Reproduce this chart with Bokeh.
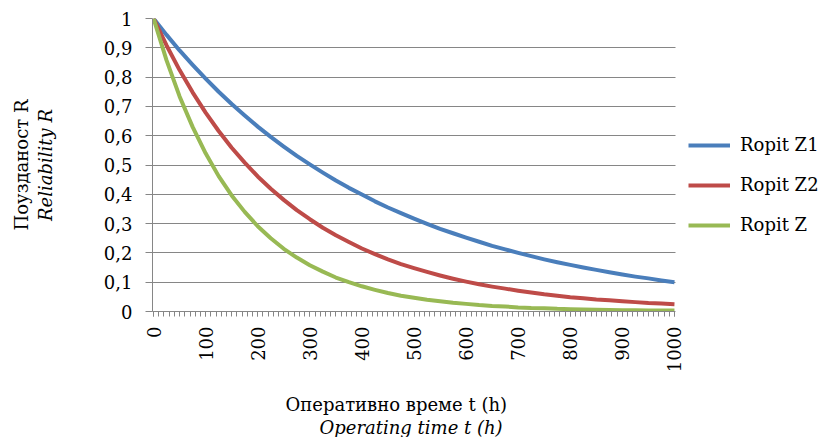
import math
from bokeh.plotting import figure
from bokeh.models import (Range1d, FixedTicker, CustomJSTickFormatter, Legend,
                          LegendItem, Title, BoxAnnotation)
from bokeh.embed import file_html
from bokeh.resources import INLINE

# ---- data ----
hours = [0, 25, 50, 75, 100, 125, 150, 175, 200, 225, 250, 275, 300, 325, 350,
         375, 400, 425, 450, 475, 500, 525, 550, 575, 600, 625, 650, 675, 700,
         725, 750, 775, 800, 825, 850, 875, 900, 925, 950, 975, 1000]

ropit_z1 = [1.000, 0.944, 0.891, 0.842, 0.795, 0.750, 0.708, 0.669, 0.631,
            0.596, 0.563, 0.531, 0.502, 0.474, 0.447, 0.422, 0.399, 0.376,
            0.355, 0.336, 0.317, 0.299, 0.282, 0.267, 0.252, 0.238, 0.224,
            0.212, 0.200, 0.189, 0.178, 0.168, 0.159, 0.150, 0.142, 0.134,
            0.126, 0.119, 0.113, 0.106, 0.100]

ropit_z2 = [1.000, 0.908, 0.824, 0.748, 0.679, 0.616, 0.559, 0.508, 0.461,
            0.419, 0.381, 0.346, 0.315, 0.286, 0.260, 0.237, 0.215, 0.196,
            0.178, 0.162, 0.148, 0.135, 0.123, 0.112, 0.102, 0.093, 0.085,
            0.078, 0.071, 0.065, 0.059, 0.054, 0.049, 0.045, 0.041, 0.038,
            0.035, 0.032, 0.029, 0.027, 0.025]

ropit_z = [1.000, 0.857, 0.734, 0.630, 0.540, 0.462, 0.396, 0.340, 0.291,
           0.250, 0.214, 0.184, 0.158, 0.136, 0.116, 0.100, 0.086, 0.074,
           0.063, 0.054, 0.047, 0.040, 0.035, 0.030, 0.026, 0.022, 0.019,
           0.017, 0.014, 0.012, 0.011, 0.009, 0.008, 0.007, 0.006, 0.005,
           0.004, 0.004, 0.003, 0.003, 0.003]

series_names = ["Ropit Z1", "Ropit Z2", "Ropit Z"]
series_colors = ["#4A7EBB", "#BE4B48", "#98B954"]

x_ticks = [0, 100, 200, 300, 400, 500, 600, 700, 800, 900, 1000]
x_minor_ticks = [v for v in range(0, 1001, 10)]
y_ticks = [0.0, 0.1, 0.2, 0.3, 0.4, 0.5, 0.6, 0.7, 0.8, 0.9, 1.0]
y_tick_labels = ["0", "0,1", "0,2", "0,3", "0,4", "0,5", "0,6", "0,7", "0,8",
                 "0,9", "1"]

y_title_1 = "Поузданост R"
y_title_2 = "Reliability R"
x_title_1 = "Оперативно време t (h)"
x_title_2 = "Operating time t (h)"

FONT = "DejaVu Serif"
FS = "18px"
GRAY = "#868686"

X_START, X_END_DATA = -2, 1002
PLOT_PX = 523          # pixel width of the 0..1000 plotting area
FRAME_PX = 826 - 152   # frame extends to the right edge (legend lives there)
x_end = X_START + FRAME_PX * (X_END_DATA - X_START) / PLOT_PX

p = figure(width=826, height=437, output_backend="svg", toolbar_location=None,
           x_range=Range1d(X_START, x_end), y_range=Range1d(0, 1),
           min_border_left=152, min_border_right=0, min_border_top=18,
           min_border_bottom=125)
p.outline_line_color = None
p.background_fill_color = "white"
p.border_fill_color = "white"

# x axis
p.xaxis.ticker = FixedTicker(ticks=x_ticks, minor_ticks=x_minor_ticks)
p.xaxis.bounds = (X_START, X_END_DATA)
p.xaxis.major_label_orientation = math.pi / 2
p.xaxis.major_label_standoff = 10
p.xaxis.major_tick_out = 5
p.xaxis.major_tick_in = 0
p.xaxis.minor_tick_out = 5
p.xaxis.minor_tick_in = 0
p.xaxis.axis_line_color = GRAY
p.xaxis.major_tick_line_color = GRAY
p.xaxis.minor_tick_line_color = GRAY

# y axis
p.yaxis.ticker = FixedTicker(ticks=y_ticks)
p.yaxis.formatter = CustomJSTickFormatter(
    args=dict(yt=y_ticks, yl=y_tick_labels),
    code="const i = yt.findIndex(v => Math.abs(v - tick) < 1e-9); return i >= 0 ? yl[i] : '';")
p.yaxis.major_label_standoff = 13
p.yaxis.major_tick_out = 7
p.yaxis.major_tick_in = 0
p.yaxis.minor_tick_line_color = None
p.yaxis.axis_line_color = GRAY
p.yaxis.major_tick_line_color = GRAY
p.yaxis.axis_label = y_title_2
p.yaxis.axis_label_standoff = 45
p.yaxis.axis_label_text_font = FONT
p.yaxis.axis_label_text_font_size = FS
p.yaxis.axis_label_text_font_style = "italic"
p.yaxis.axis_label_text_color = "black"

for ax in (p.xaxis, p.yaxis):
    ax.major_label_text_font = FONT
    ax.major_label_text_font_size = FS
    ax.major_label_text_color = "black"

p.xgrid.grid_line_color = None
p.ygrid.ticker = FixedTicker(ticks=y_ticks)
p.ygrid.grid_line_color = GRAY
p.ygrid.grid_line_width = 1

# series
renderers = []
for name, vals, col in zip(series_names, [ropit_z1, ropit_z2, ropit_z], series_colors):
    r = p.line(hours, vals, line_color=col, line_width=4, line_join="round")
    renderers.append((name, r))

# blank the gridlines to the right of the plotting area (legend zone)
p.add_layout(BoxAnnotation(left=X_END_DATA, fill_color="white", fill_alpha=1,
                           line_color=None))

legend = Legend(items=[LegendItem(label=n, renderers=[r]) for n, r in renderers],
                location=(536, 76), orientation="vertical",
                glyph_width=42, glyph_height=20, label_height=20, spacing=19,
                padding=0, margin=0, border_line_color=None,
                background_fill_alpha=0, label_standoff=10,
                label_text_font=FONT, label_text_font_size=FS,
                label_text_color="black")
p.add_layout(legend)

# outer y title
p.add_layout(Title(text=y_title_1, align="center", text_font=FONT,
                   text_font_size=FS, text_font_style="normal",
                   text_color="black", standoff=0), "left")
# x titles (first panel is spacing only)
p.add_layout(Title(text=" ", standoff=0, text_font_size="12px"), "below")
p.add_layout(Title(text=x_title_1, align="left", offset=133, text_font=FONT,
                   text_font_size=FS, text_font_style="normal",
                   text_color="black", standoff=0), "below")
p.add_layout(Title(text=x_title_2, align="left", offset=167, text_font=FONT,
                   text_font_size=FS, text_font_style="italic",
                   text_color="black", standoff=0), "below")

open("out.html", "w").write(file_html(p, INLINE))
